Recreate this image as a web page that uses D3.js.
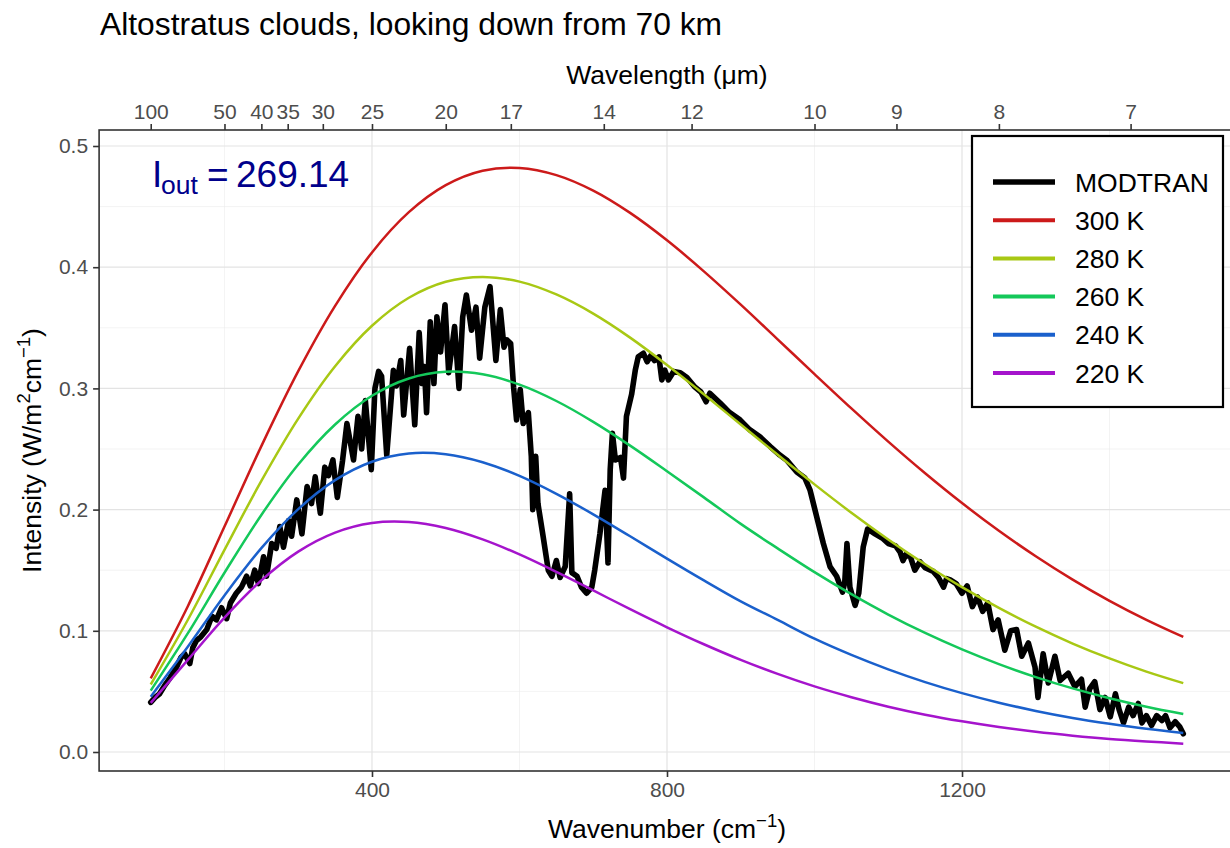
<!DOCTYPE html>
<html>
<head>
<meta charset="utf-8">
<script src="https://cdn.jsdelivr.net/npm/d3@7"></script>
<style>
  html, body { margin: 0; padding: 0; background: #ffffff; }
  svg { display: block; }
  text { font-family: "Liberation Sans", Arial, Helvetica, sans-serif; }
</style>
</head>
<body>
<div id="chart"></div>
<script>
// ---------------- DATA ----------------
const chartTitle = "Altostratus clouds, looking down from 70 km";
const iOutValue = "269.14";

// Blackbody reference curves (at 50 cm^-1 steps)
const planckWavenumber = [100,150,200,250,300,350,400,450,500,550,600,650,700,750,800,850,900,950,1000,1050,1100,1150,1200,1250,1300,1350,1400,1450,1500];
const curve300K = [0.0608,0.1199,0.1860,0.2524,0.3142,0.3681,0.4122,0.4454,0.4677,0.4796,0.4819,0.4760,0.4632,0.4448,0.4222,0.3966,0.3691,0.3405,0.3118,0.2835,0.2561,0.2300,0.2054,0.1825,0.1615,0.1422,0.1247,0.1090,0.0949];
const curve280K = [0.0557,0.1087,0.1668,0.2237,0.2751,0.3183,0.3517,0.3748,0.3880,0.3920,0.3881,0.3775,0.3617,0.3419,0.3193,0.2951,0.2702,0.2452,0.2208,0.1974,0.1754,0.1549,0.1360,0.1189,0.1034,0.0895,0.0772,0.0663,0.0568];
const curve260K = [0.0506,0.0976,0.1479,0.1956,0.2372,0.2702,0.2939,0.3082,0.3137,0.3116,0.3031,0.2896,0.2724,0.2528,0.2317,0.2101,0.1882,0.1680,0.1484,0.1302,0.1134,0.0982,0.0846,0.0725,0.0618,0.0525,0.0444,0.0374,0.0314];
const curve240K = [0.0456,0.0866,0.1292,0.1682,0.2004,0.2243,0.2395,0.2463,0.2457,0.2391,0.2278,0.2130,0.1961,0.1780,0.1596,0.1416,0.1243,0.1090,0.0935,0.0801,0.0682,0.0577,0.0486,0.0407,0.0339,0.0281,0.0233,0.0191,0.0157];
const curve220K = [0.0405,0.0758,0.1109,0.1416,0.1653,0.1810,0.1889,0.1897,0.1848,0.1754,0.1630,0.1486,0.1333,0.1178,0.1029,0.0889,0.0760,0.0644,0.0541,0.0452,0.0374,0.0308,0.0253,0.0206,0.0167,0.0135,0.0108,0.0087,0.0069];

// MODTRAN spectrum
const modtranWavenumber = [100,106,112,119,126,131,135,141,146,153,157,162,168,176,183,189,196,203,208,216,223,230,235,241,246,253,257,264,270,275,280,287,291,298,305,312,318,323,330,336,341,347,353,360,366,375,381,386,391,399,404,409,413,420,429,433,439,443,451,458,464,468,471,474,479,484,488,493,499,504,512,518,523,528,535,541,546,553,560,568,574,579,583,588,592,596,601,605,612,616,618,622,625,632,639,644,650,655,662,668,671,678,684,691,698,702,709,716,720,723,726,730,737,741,745,752,757,761,768,773,778,783,789,793,797,802,809,818,827,838,846,853,858,872,885,899,912,926,940,953,962,976,987,994,1003,1012,1021,1030,1038,1041,1044,1048,1055,1060,1066,1072,1082,1093,1100,1110,1116,1120,1124,1130,1136,1143,1150,1161,1168,1175,1179,1184,1192,1200,1207,1214,1221,1228,1235,1242,1249,1258,1266,1274,1281,1290,1299,1303,1310,1317,1326,1333,1344,1353,1362,1367,1373,1380,1387,1394,1401,1408,1413,1419,1426,1432,1439,1444,1450,1457,1464,1471,1476,1482,1489,1495,1500];
const modtranIntensity = [0.041,0.045,0.048,0.055,0.061,0.066,0.070,0.078,0.081,0.073,0.086,0.092,0.095,0.101,0.112,0.109,0.119,0.110,0.123,0.131,0.136,0.145,0.137,0.150,0.139,0.161,0.145,0.172,0.168,0.186,0.169,0.191,0.178,0.208,0.180,0.219,0.205,0.227,0.197,0.235,0.228,0.241,0.210,0.240,0.271,0.241,0.277,0.250,0.290,0.233,0.300,0.314,0.310,0.245,0.315,0.302,0.323,0.278,0.333,0.270,0.346,0.304,0.318,0.280,0.355,0.304,0.359,0.330,0.369,0.313,0.351,0.300,0.359,0.377,0.348,0.367,0.325,0.367,0.384,0.323,0.365,0.334,0.340,0.337,0.301,0.274,0.299,0.271,0.280,0.244,0.200,0.244,0.205,0.178,0.150,0.145,0.158,0.144,0.153,0.213,0.148,0.145,0.136,0.131,0.136,0.150,0.180,0.216,0.156,0.233,0.263,0.241,0.243,0.226,0.277,0.295,0.315,0.326,0.329,0.322,0.327,0.323,0.326,0.307,0.315,0.307,0.314,0.313,0.309,0.301,0.297,0.289,0.296,0.288,0.280,0.274,0.266,0.260,0.252,0.245,0.241,0.231,0.226,0.216,0.194,0.172,0.153,0.145,0.132,0.140,0.172,0.136,0.121,0.131,0.169,0.184,0.180,0.176,0.172,0.170,0.165,0.158,0.163,0.161,0.150,0.157,0.152,0.149,0.144,0.136,0.143,0.142,0.139,0.131,0.137,0.120,0.128,0.116,0.123,0.101,0.109,0.084,0.100,0.101,0.079,0.090,0.070,0.045,0.081,0.057,0.079,0.059,0.065,0.054,0.060,0.037,0.052,0.058,0.035,0.045,0.029,0.048,0.035,0.024,0.037,0.030,0.040,0.024,0.030,0.022,0.030,0.026,0.030,0.020,0.025,0.021,0.015];

const seriesNames = ["MODTRAN","300 K","280 K","260 K","240 K","220 K"];
const seriesColors = ["#000000","#CC1A1A","#A8C814","#14C85A","#1A60CC","#A514CC"];

const xTicksMajor = [400, 800, 1200];
const xTicksMinor = [200, 600, 1000, 1400];
const yTicksMajor = [0.0, 0.1, 0.2, 0.3, 0.4, 0.5];
const yTicksMinor = [0.05, 0.15, 0.25, 0.35, 0.45];
const wavelengthTicks = [100, 50, 40, 35, 30, 25, 20, 17, 14, 12, 10, 9, 8, 7];

// ---------------- LAYOUT ----------------
const W = 1230, H = 848;
const panel = { left: 99.1, right: 1234.9, top: 130, bottom: 771 };

const x = d3.scaleLinear().domain([30, 1570]).range([panel.left, panel.right]);
const y = d3.scaleLinear().domain([0, 0.5]).range([752, 146]);

const svg = d3.select("#chart").append("svg")
  .attr("width", W).attr("height", H)
  .attr("viewBox", `0 0 ${W} ${H}`);

svg.append("rect").attr("width", W).attr("height", H).attr("fill", "#ffffff");

const defs = svg.append("defs");
defs.append("clipPath").attr("id", "panelClip")
  .append("rect")
  .attr("x", panel.left).attr("y", panel.top)
  .attr("width", panel.right - panel.left).attr("height", panel.bottom - panel.top);

// grid
const grid = svg.append("g");
grid.selectAll("line.xmin").data(xTicksMinor).join("line")
  .attr("x1", d => x(d)).attr("x2", d => x(d))
  .attr("y1", panel.top).attr("y2", panel.bottom)
  .attr("stroke", "#EBEBEB").attr("stroke-width", 0.6);
grid.selectAll("line.ymin").data(yTicksMinor).join("line")
  .attr("x1", panel.left).attr("x2", panel.right)
  .attr("y1", d => y(d)).attr("y2", d => y(d))
  .attr("stroke", "#EBEBEB").attr("stroke-width", 0.6);
grid.selectAll("line.xmaj").data(xTicksMajor).join("line")
  .attr("x1", d => x(d)).attr("x2", d => x(d))
  .attr("y1", panel.top).attr("y2", panel.bottom)
  .attr("stroke", "#E3E3E3").attr("stroke-width", 1.2);
grid.selectAll("line.ymaj").data(yTicksMajor).join("line")
  .attr("x1", panel.left).attr("x2", panel.right)
  .attr("y1", d => y(d)).attr("y2", d => y(d))
  .attr("stroke", "#E3E3E3").attr("stroke-width", 1.2);

// data lines
const plot = svg.append("g").attr("clip-path", "url(#panelClip)");

const modtranData = modtranWavenumber.map((w, i) => [w, modtranIntensity[i]]);
const lineLin = d3.line().x(d => x(d[0])).y(d => y(d[1])).curve(d3.curveLinear);
plot.append("path").datum(modtranData)
  .attr("d", lineLin)
  .attr("fill", "none").attr("stroke", seriesColors[0])
  .attr("stroke-width", 5.6).attr("stroke-linejoin", "round").attr("stroke-linecap", "round");

const planckSets = [curve300K, curve280K, curve260K, curve240K, curve220K];
const lineSmooth = d3.line().x(d => x(d[0])).y(d => y(d[1])).curve(d3.curveCatmullRom.alpha(0.5));
planckSets.forEach((vals, k) => {
  const data = planckWavenumber.map((w, i) => [w, vals[i]]);
  plot.append("path").datum(data)
    .attr("d", lineSmooth)
    .attr("fill", "none").attr("stroke", seriesColors[k + 1])
    .attr("stroke-width", 2.5).attr("stroke-linecap", "butt");
});

// panel border
svg.append("rect")
  .attr("x", panel.left).attr("y", panel.top)
  .attr("width", panel.right - panel.left).attr("height", panel.bottom - panel.top)
  .attr("fill", "none").attr("stroke", "#333333").attr("stroke-width", 1.6);

// axes
const tickColor = "#333333", labelColor = "#4D4D4D";
const tickFont = 21;

const bottomAxis = svg.append("g")
  .attr("transform", `translate(0,${panel.bottom})`)
  .call(d3.axisBottom(x).tickValues(xTicksMajor).tickSize(6).tickPadding(5).tickFormat(d3.format("d")));
const leftAxis = svg.append("g")
  .attr("transform", `translate(${panel.left},0)`)
  .call(d3.axisLeft(y).tickValues(yTicksMajor).tickSize(6).tickPadding(5).tickFormat(d3.format(".1f")));
const topAxis = svg.append("g")
  .attr("transform", `translate(0,${panel.top})`)
  .call(d3.axisTop(x).tickValues(wavelengthTicks.map(l => 10000 / l)).tickSize(6).tickPadding(5)
    .tickFormat((d, i) => String(wavelengthTicks[i])));

[bottomAxis, leftAxis, topAxis].forEach(g => {
  g.select(".domain").remove();
  g.selectAll(".tick line").attr("stroke", tickColor).attr("stroke-width", 1.6);
  g.selectAll(".tick text").attr("fill", labelColor)
    .style("font-size", tickFont + "px")
    .style("font-family", '"Liberation Sans", Arial, sans-serif');
});

// title
svg.append("text").attr("x", 100).attr("y", 35)
  .style("font-size", "31.8px").attr("fill", "#000").text(chartTitle);

// axis titles
const xt = svg.append("text").attr("x", (panel.left + panel.right) / 2).attr("y", 838)
  .attr("text-anchor", "middle").style("font-size", "26.5px").attr("fill", "#000");
xt.append("tspan").text("Wavenumber (cm");
xt.append("tspan").text("\u22121").style("font-size", "18.5px").attr("dy", -11);
xt.append("tspan").text(")").attr("dy", 11);

svg.append("text").attr("x", (panel.left + panel.right) / 2).attr("y", 84)
  .attr("text-anchor", "middle").style("font-size", "26.5px").attr("fill", "#000")
  .text("Wavelength (\u03BCm)");

const yt = svg.append("text")
  .attr("transform", `translate(41,${(panel.top + panel.bottom) / 2}) rotate(-90)`)
  .attr("text-anchor", "middle").style("font-size", "26.5px").attr("fill", "#000");
yt.append("tspan").text("Intensity (W/m");
yt.append("tspan").text("2").style("font-size", "18.5px").attr("dy", -11);
yt.append("tspan").text("cm").attr("dy", 11);
yt.append("tspan").text("\u22121").style("font-size", "18.5px").attr("dy", -11);
yt.append("tspan").text(")").attr("dy", 11);

// I_out annotation
const ann = svg.append("text").attr("fill", "#00008B").attr("y", 187).style("font-size", "37px");
ann.append("tspan").attr("x", 152).text("I");
ann.append("tspan").attr("x", 161).attr("dy", 7).style("font-size", "26.5px").text("out");
ann.append("tspan").attr("x", 207).attr("dy", -7).text("=");
ann.append("tspan").attr("x", 236).text(iOutValue);

// legend
const lg = svg.append("g");
lg.append("rect").attr("x", 972).attr("y", 136).attr("width", 251).attr("height", 271)
  .attr("fill", "#ffffff").attr("stroke", "#000000").attr("stroke-width", 2.2);
const rowY = d3.scalePoint().domain(seriesNames).range([182, 373]);
seriesNames.forEach((name, i) => {
  const yy = rowY(name);
  lg.append("line").attr("x1", 993).attr("x2", 1055).attr("y1", yy).attr("y2", yy)
    .attr("stroke", seriesColors[i]).attr("stroke-width", i === 0 ? 5.6 : 4);
  lg.append("text").attr("x", 1075).attr("y", yy + 9.5)
    .style("font-size", "26.5px").attr("fill", "#000").text(name);
});
</script>
</body>
</html>
